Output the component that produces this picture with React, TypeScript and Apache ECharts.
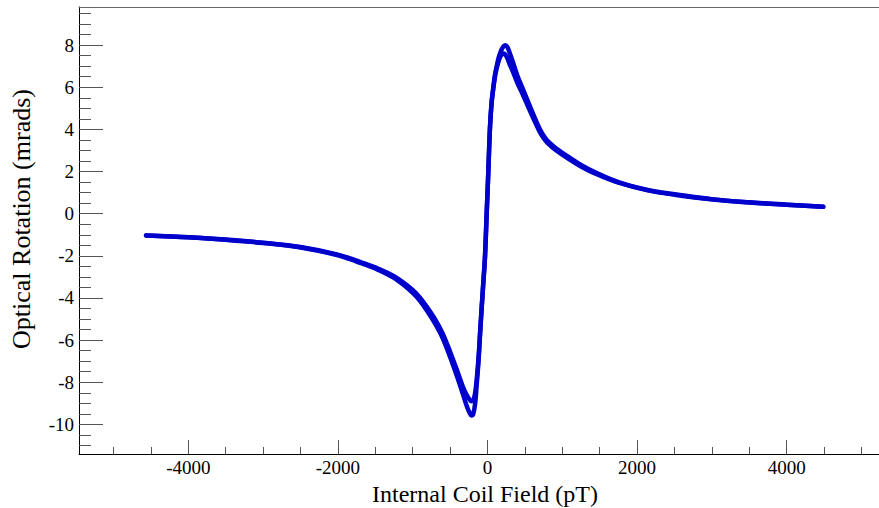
import React, { useEffect, useRef } from 'react';
import * as echarts from 'echarts';

// Sweep 1 (outer loop)
const fieldA = [-4565, -4000, -3500, -3000, -2500, -2000, -1750, -1500, -1250, -1000, -900, -800, -700, -600, -500, -400, -330, -280, -240, -215, -190, -165, -144, -120, -100, -78, -56, -34, -11, 11, 33, 55, 78, 100, 123, 145, 167, 190, 215, 240, 265, 290, 345, 400, 479, 550, 620, 702, 780, 850, 920, 1013, 1250, 1460, 1750, 2128, 2500, 3019, 3500, 4000, 4489];
const rotationA = [-1.03, -1.12, -1.24, -1.39, -1.6, -1.97, -2.27, -2.6, -3.05, -3.75, -4.15, -4.65, -5.22, -5.9, -6.8, -7.8, -8.55, -9.1, -9.45, -9.58, -9.5, -9.0, -8.1, -7.0, -5.75, -4.5, -3.3, -2.1, 0.0, 2.0, 4.1, 5.3, 6.0, 6.6, 7.0, 7.35, 7.6, 7.8, 7.95, 8.0, 7.92, 7.7, 7.14, 6.55, 5.87, 5.25, 4.65, 4.0, 3.55, 3.3, 3.09, 2.86, 2.31, 1.93, 1.5, 1.14, 0.92, 0.68, 0.54, 0.43, 0.33];

// Sweep 2 (inner loop)
const fieldB = fieldA;
const rotationB = [-1.03, -1.12, -1.23, -1.38, -1.58, -1.94, -2.23, -2.55, -2.97, -3.62, -4.0, -4.48, -5.02, -5.68, -6.55, -7.5, -8.2, -8.6, -8.82, -8.9, -8.85, -8.5, -7.85, -6.85, -5.7, -4.45, -3.25, -2.05, 0.0, 2.0, 4.05, 5.25, 5.95, 6.5, 6.9, 7.2, 7.42, 7.55, 7.6, 7.55, 7.38, 7.15, 6.7, 6.2, 5.6, 5.02, 4.47, 3.86, 3.44, 3.2, 3.0, 2.77, 2.24, 1.87, 1.47, 1.12, 0.9, 0.67, 0.53, 0.43, 0.33];

const xTitle = 'Internal Coil Field (pT)';
const yTitle = 'Optical Rotation (mrads)';

const W = 879;
const H = 508;
const PX_X0 = 487.5;
const PX_PER_X = 0.0748;
const PX_Y0 = 213.7;
const PX_PER_Y = 21.07;
const px = (x: number) => PX_X0 + x * PX_PER_X;
const py = (y: number) => PX_Y0 - y * PX_PER_Y;

const FRAME_L = 79;
const FRAME_T = 7;
const FRAME_B = 454;
const X_MAX = (W - PX_X0) / PX_PER_X;
const X_MIN = (FRAME_L - PX_X0) / PX_PER_X;
const Y_MAX = (PX_Y0 - FRAME_T) / PX_PER_Y;
const Y_MIN = (PX_Y0 - FRAME_B) / PX_PER_Y;

const FONT = '"Liberation Serif", "Times New Roman", serif';
const TICK = '#555';

export default function App() {
  const ref = useRef<HTMLDivElement>(null);
  useEffect(() => {
    if (!ref.current) return;
    const chart = echarts.init(ref.current, undefined, { renderer: 'svg' });
    const hidden = (gi: number) => ({ type: 'value', gridIndex: gi, show: false, min: 0, max: 1 });
    const plain = (v: number) => String(v);
    const option: any = {
      animation: false,
      backgroundColor: '#fff',
      grid: [
        { left: FRAME_L, top: FRAME_T, right: 0, bottom: H - FRAME_B },
        { left: px(-4000), right: W - px(4000), top: FRAME_T, bottom: H - FRAME_B },
        { left: px(-5000), right: W - px(5000), top: FRAME_T, bottom: H - FRAME_B },
        { left: FRAME_L, right: 0, top: py(8), bottom: H - py(-10) },
        { left: FRAME_L, right: 0, top: py(9.5), bottom: H - py(-11) },
      ],
      xAxis: [
        { type: 'value', gridIndex: 0, position: 'bottom', min: X_MIN, max: X_MAX, axisLine: { show: true, onZero: false, lineStyle: { color: '#000', width: 1 } }, axisTick: { show: false }, axisLabel: { show: false }, splitLine: { show: false } },
        { type: 'value', gridIndex: 1, min: -4000, max: 4000, interval: 2000, axisLine: { show: false, onZero: false }, axisTick: { show: true, inside: true, length: 14, lineStyle: { color: TICK, width: 1 } }, axisLabel: { show: true, margin: 4, fontFamily: FONT, fontSize: 19, color: '#000', formatter: plain }, splitLine: { show: false } },
        { type: 'value', gridIndex: 2, min: -5000, max: 5000, interval: 500, axisLine: { show: false, onZero: false }, axisTick: { show: true, inside: true, length: 7, lineStyle: { color: TICK, width: 1 } }, axisLabel: { show: false }, splitLine: { show: false } },
        hidden(3),
        hidden(4),
        { type: 'value', gridIndex: 0, position: 'top', min: X_MIN, max: X_MAX, axisLine: { show: true, onZero: false, lineStyle: { color: '#666', width: 1 } }, axisTick: { show: false }, axisLabel: { show: false }, splitLine: { show: false } },
      ],
      yAxis: [
        { type: 'value', gridIndex: 0, position: 'left', min: Y_MIN, max: Y_MAX, axisLine: { show: true, onZero: false, lineStyle: { color: '#000', width: 1 } }, axisTick: { show: false }, axisLabel: { show: false }, splitLine: { show: false } },
        hidden(1),
        hidden(2),
        { type: 'value', gridIndex: 3, min: -10, max: 8, interval: 2, axisLine: { show: false, onZero: false }, axisTick: { show: true, inside: true, length: 24, lineStyle: { color: TICK, width: 1 } }, axisLabel: { show: true, margin: 5, fontFamily: FONT, fontSize: 19, color: '#000', formatter: plain }, splitLine: { show: false } },
        { type: 'value', gridIndex: 4, min: -11, max: 9.5, interval: 0.5, axisLine: { show: false, onZero: false }, axisTick: { show: true, inside: true, length: 12, lineStyle: { color: TICK, width: 1 } }, axisLabel: { show: false }, splitLine: { show: false } },
      ],
      series: [
        {
          type: 'line', xAxisIndex: 0, yAxisIndex: 0, showSymbol: false, smooth: 0.35,
          data: fieldB.map((x, i) => [x, rotationB[i]]),
          lineStyle: { color: '#0000cc', width: 4.5, cap: 'round', join: 'round' },
        },
        {
          type: 'line', xAxisIndex: 0, yAxisIndex: 0, showSymbol: false, smooth: 0.35,
          data: fieldA.map((x, i) => [x, rotationA[i]]),
          lineStyle: { color: '#0000cc', width: 4.5, cap: 'round', join: 'round' },
        },
      ],
      graphic: [
        { type: 'text', x: 485, y: 494, style: { text: xTitle, font: `24px ${FONT}`, fill: '#000', align: 'center', verticalAlign: 'middle' } },
        { type: 'text', x: 21, y: 219, rotation: Math.PI / 2, style: { text: yTitle, font: `26px ${FONT}`, fill: '#000', align: 'center', verticalAlign: 'middle' } },
      ],
    };
    chart.setOption(option);
    return () => chart.dispose();
  }, []);
  return <div ref={ref} style={{ position: 'fixed', left: 0, top: 0, width: W, height: H }} />;
}
